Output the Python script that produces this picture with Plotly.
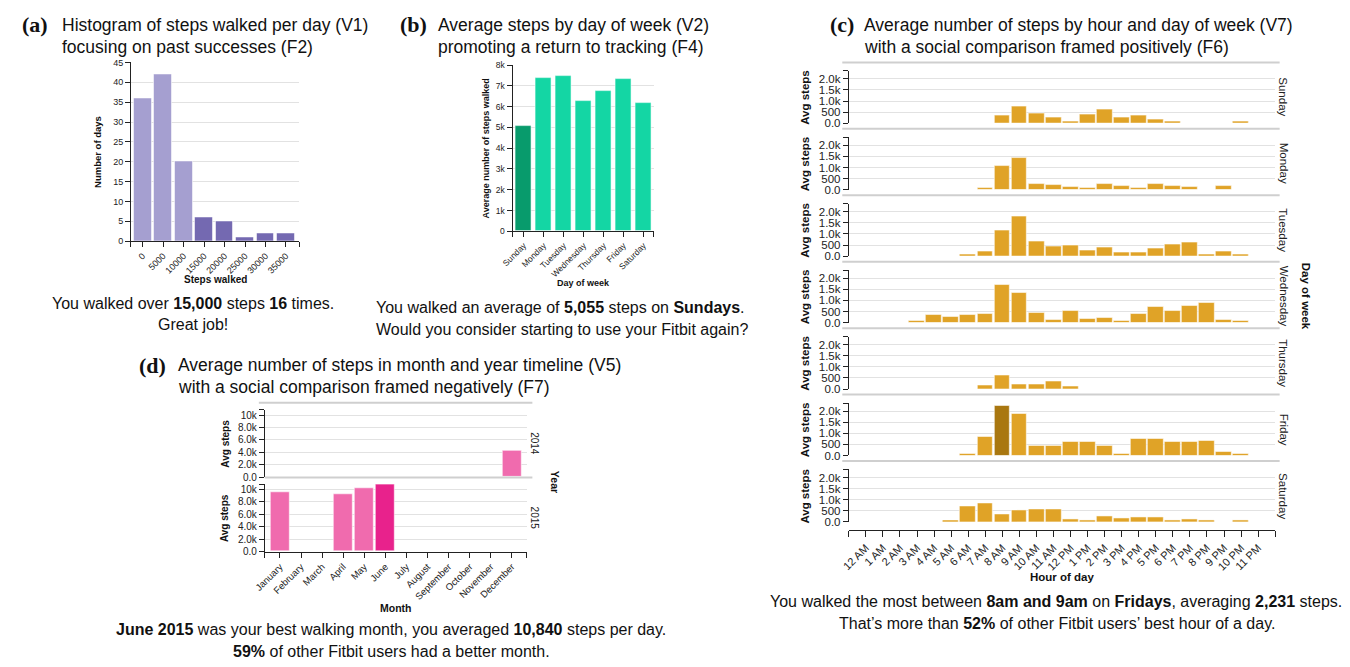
import plotly.graph_objects as go

# ---------------- data ----------------
hist_bins = ["0", "5000", "10000", "15000", "20000", "25000", "30000", "35000"]
hist_bin_start = [0, 5000, 10000, 15000, 20000, 25000, 30000, 35000]
hist_days = [36, 42, 20, 6, 5, 1, 2, 2]

weekdays = ["Sunday", "Monday", "Tuesday", "Wednesday", "Thursday", "Friday", "Saturday"]
weekday_avg = [5055, 7370, 7480, 6280, 6760, 7310, 6170]

hour_labels = ["12 AM", "1 AM", "2 AM", "3 AM", "4 AM", "5 AM", "6 AM", "7 AM", "8 AM",
               "9 AM", "10 AM", "11 AM", "12 PM", "1 PM", "2 PM", "3 PM", "4 PM", "5 PM",
               "6 PM", "7 PM", "8 PM", "9 PM", "10 PM", "11 PM"]
N = None
sunday_hourly = [N, N, N, N, N, N, N, N, 330, 750, 420, 240, 90, 370, 600, 240, 330, 180, 80, N, N, N, 90, N]
monday_hourly = [N, N, N, N, N, N, N, 70, 1080, 1420, 260, 210, 120, 80, 260, 170, 80, 260, 170, 120, N, 180, N, N]
tuesday_hourly = [N, N, N, N, N, N, 70, 220, 1170, 1780, 650, 410, 470, 270, 370, 170, 170, 320, 510, 600, 70, 220, 70, N]
wednesday_hourly = [N, N, N, 80, 320, 230, 320, 370, 1690, 1320, 420, 130, 510, 180, 220, 80, 370, 700, 510, 750, 880, 130, 80, N]
thursday_hourly = [N, N, N, N, N, N, N, 160, 590, 210, 210, 360, 110, N, N, N, N, N, N, N, N, N, N, N]
friday_hourly = [N, N, N, N, N, N, 70, 830, 2231, 1870, 410, 410, 630, 630, 410, 70, 730, 730, 630, 630, 670, 160, 70, N]
saturday_hourly = [N, N, N, N, N, 70, 690, 840, 350, 500, 550, 550, 110, 70, 270, 160, 210, 210, 70, 110, 70, N, 70, N]
hourly_by_day = [sunday_hourly, monday_hourly, tuesday_hourly, wednesday_hourly,
                 thursday_hourly, friday_hourly, saturday_hourly]

months = ["January", "February", "March", "April", "May", "June", "July", "August",
          "September", "October", "November", "December"]
years = ["2014", "2015"]
steps_2014 = [N, N, N, N, N, N, N, N, N, N, N, 4250]
steps_2015 = [9500, N, N, 9200, 10250, 10840, N, N, N, N, N, N]

# ---------------- styling ----------------
PAGE_W, PAGE_H = 1350, 667
OFF = 8  # default body margin of the html page
W, H = PAGE_W - OFF, PAGE_H - OFF
FONT = "Liberation Sans"
SERIF = "Liberation Serif"
AX = "#222222"
GRID = "#e2e2e2"
SEP = "#cfcfcf"
BAR_LINE = dict(color="rgba(255,255,255,0.55)", width=1)
TITLE = 17.5
CAP = 16


def xp(v):
    return (v - OFF) / W


def yp(v):
    return 1 - (v - OFF) / H


fig = go.Figure()
layout = {}
annotations = []
shapes = []


def ann(text, x, y, size, bold=False, angle=0, family=FONT, xanchor="center", color="#111"):
    annotations.append(dict(
        text=f"<b>{text}</b>" if bold else text, x=xp(x), y=yp(y), xref="paper", yref="paper",
        showarrow=False, textangle=angle, xanchor=xanchor, yanchor="middle",
        font=dict(family=family, size=size, color=color)))


def sep(x0, x1, y):
    shapes.append(dict(type="line", xref="paper", yref="paper", x0=xp(x0), x1=xp(x1),
                       y0=yp(y), y1=yp(y), line=dict(color=SEP, width=2)))


def xaxis_cfg(dom, rng, labels, size, **kw):
    d = dict(domain=[xp(dom[0]), xp(dom[1])], range=rng, tickmode="array",
             tickvals=[rng[0]] + list(range(len(labels))) + [rng[1]],
             ticktext=[""] + labels + [""], tickangle=-45, ticks="outside", ticklen=5,
             tickcolor=AX, showline=True, linecolor=AX, linewidth=1, showgrid=False,
             zeroline=False, tickfont=dict(family=FONT, size=size, color="#222"),
             fixedrange=True)
    d.update(kw)
    return d


def yaxis_cfg(dom, rng, vals, texts, size, anchor, top_tick=False):
    d = dict(domain=[yp(dom[1]), yp(dom[0])], range=rng, anchor=anchor, tickmode="array",
             tickvals=vals, ticktext=texts, ticks="outside", ticklen=5, tickcolor=AX,
             showline=True, linecolor=AX, linewidth=1, showgrid=True, gridcolor=GRID,
             gridwidth=1, zeroline=False, tickfont=dict(family=FONT, size=size, color="#222"),
             fixedrange=True)
    if top_tick:
        d["minor"] = dict(tickmode="array", tickvals=[rng[1] * 0.999], ticks="outside",
                          ticklen=5, tickcolor=AX, showgrid=False)
    return d


# ---------------- (a) histogram ----------------
col_a = ["#7469b1" if b >= 15000 else "#a59fd0" for b in hist_bin_start]
fig.add_trace(go.Bar(x=list(range(len(hist_days))), y=hist_days, width=0.87,
                     marker=dict(color=col_a, line=BAR_LINE), xaxis="x", yaxis="y"))
layout["xaxis"] = xaxis_cfg((120, 290), [-0.57, 7.66], hist_bins, 9, anchor="y")
layout["yaxis"] = yaxis_cfg((58.3, 240), [0, 45], list(range(0, 50, 5)),
                            [str(v) for v in range(0, 50, 5)], 9, "x")
ann("(a)", 8, 20, 22, bold=True, family=SERIF, xanchor="left")
ann("Histogram of steps walked per day (V1)", 48, 20, TITLE, xanchor="left")
ann("focusing on past successes (F2)", 48, 42.5, TITLE, xanchor="left")
ann("Number of days", 86, 149, 9.5, bold=True, angle=-90)
ann("Steps walked", 205, 279, 10, bold=True)
ann("You walked over <b>15,000</b> steps <b>16</b> times.", 183, 303, CAP)
ann("Great job!", 183, 325, CAP)

# ---------------- (b) day of week ----------------
min_day = weekday_avg.index(min(weekday_avg))
col_b = ["#089b6c" if i == min_day else "#14d6a4" for i in range(len(weekdays))]
fig.add_trace(go.Bar(x=list(range(len(weekdays))), y=weekday_avg, width=0.83,
                     marker=dict(color=col_b, line=BAR_LINE), xaxis="x2", yaxis="y2"))
layout["xaxis2"] = xaxis_cfg((505, 647.3), [-0.56, 6.5], weekdays, 8.5, anchor="y2")
layout["yaxis2"] = yaxis_cfg((61, 230), [0, 8000], list(range(0, 9000, 1000)),
                             ["0"] + [f"{k}k" for k in range(1, 9)], 8.5, "x2")
ann("(b)", 389, 20, 22, bold=True, family=SERIF, xanchor="left")
ann("Average steps by day of week (V2)", 428, 20, TITLE, xanchor="left")
ann("promoting a return to tracking (F4)", 428, 42.5, TITLE, xanchor="left")
ann("Average number of steps walked", 478, 146, 9, bold=True, angle=-90)
ann("Day of week", 577, 283, 9, bold=True)
ann("You walked an average of <b>5,055</b> steps on <b>Sundays</b>.", 553, 307, CAP)
ann("Would you consider starting to use your Fitbit again?", 555, 330, CAP)

# ---------------- (c) hour x day of week ----------------
all_vals = [v for row in hourly_by_day for v in row if v is not None]
peak = max(all_vals)
layout["xaxis3"] = xaxis_cfg((844.3, 1274.5), [-1, 24], hour_labels, 11,
                             anchor="free", position=yp(534), ticklen=6)
row_step = 67.6
row_h = 53.4
for i, (day, vals) in enumerate(zip(weekdays, hourly_by_day)):
    zero = 120.0 + i * row_step
    yname = f"y{3 + i}"
    cols = ["#a97710" if v == peak else "#e0a327" for v in vals]
    fig.add_trace(go.Bar(x=list(range(24)), y=vals, width=0.93,
                         marker=dict(color=cols, line=BAR_LINE), xaxis="x3", yaxis=yname))
    layout[f"yaxis{3 + i}"] = yaxis_cfg((zero - row_h, zero), [0, 2373],
                                        [0, 500, 1000, 1500, 2000],
                                        ["0.0", "500", "1.0k", "1.5k", "2.0k"], 11.5, "x3",
                                        top_tick=True)
    ann("Avg steps", 800, zero - row_h / 2, 11.5, bold=True, angle=-90)
    ann(day, 1283, zero - row_h / 2, 11.5, angle=90, color="#222")
    if i < len(weekdays) - 1:
        sep(837.7, 1279, zero + 5.7)
sep(837.7, 1279, 58.3)
ann("(c)", 823, 20, 22, bold=True, family=SERIF, xanchor="left")
ann("Average number of steps by hour and day of week (V7)", 858, 20, TITLE, xanchor="left")
ann("with a social comparison framed positively (F6)", 858, 42.5, TITLE, xanchor="left")
ann("Day of week", 1305, 296, 11.5, bold=True, angle=90)
ann("Hour of day", 1059, 582, 11.5, bold=True)
ann("You walked the most between <b>8am and 9am</b> on <b>Fridays</b>, averaging <b>2,231</b> steps.",
    1053, 606, CAP)
ann("That’s more than <b>52%</b> of other Fitbit users’ best hour of a day.", 1054, 629, CAP)

# ---------------- (d) month x year ----------------
best = max(v for v in steps_2014 + steps_2015 if v is not None)
layout["xaxis4"] = xaxis_cfg((255, 519.3), [-0.72, 11.7], months, 9.5, anchor="y11")
year_rows = [(steps_2014, 411.6, 480.0), (steps_2015, 487.3, 555.7)]
for j, (vals, top, bottom) in enumerate(year_rows):
    yname = f"y{10 + j}"
    cols = ["#e8228c" if v == best else "#f06bae" for v in vals]
    fig.add_trace(go.Bar(x=list(range(12)), y=vals, width=0.9,
                         marker=dict(color=cols, line=BAR_LINE), xaxis="x4", yaxis=yname))
    layout[f"yaxis{10 + j}"] = yaxis_cfg((top, bottom), [0, 10840],
                                         [0, 2000, 4000, 6000, 8000, 10000],
                                         ["0.0", "2.0k", "4.0k", "6.0k", "8.0k", "10k"], 10,
                                         "x4", top_tick=True)
    ann("Avg steps", 215, (top + bottom) / 2, 10, bold=True, angle=-90)
    ann(years[j], 527, (top + bottom) / 2, 10, angle=90, color="#222")
sep(249, 525, 404.3)
sep(255, 525, 480.5)
ann("(d)", 126, 366, 22, bold=True, family=SERIF, xanchor="left")
ann("Average number of steps in month and year timeline (V5)", 165, 366, TITLE, xanchor="left")
ann("with a social comparison framed negatively (F7)", 165, 388, TITLE, xanchor="left")
ann("Year", 548, 485, 10.5, bold=True, angle=90)
ann("Month", 387, 613, 10.5, bold=True)
ann("<b>June 2015</b> was your best walking month, you averaged <b>10,840</b> steps per day.",
    382, 635, CAP)
ann("<b>59%</b> of other Fitbit users had a better month.", 383, 657, CAP)

fig.update_layout(**layout)
fig.update_layout(width=W, height=H, margin=dict(l=0, r=0, t=0, b=0), showlegend=False,
                  paper_bgcolor="white", plot_bgcolor="white", bargap=0,
                  font=dict(family=FONT, color="#111"),
                  annotations=annotations, shapes=shapes)
fig.write_html("out.html")
